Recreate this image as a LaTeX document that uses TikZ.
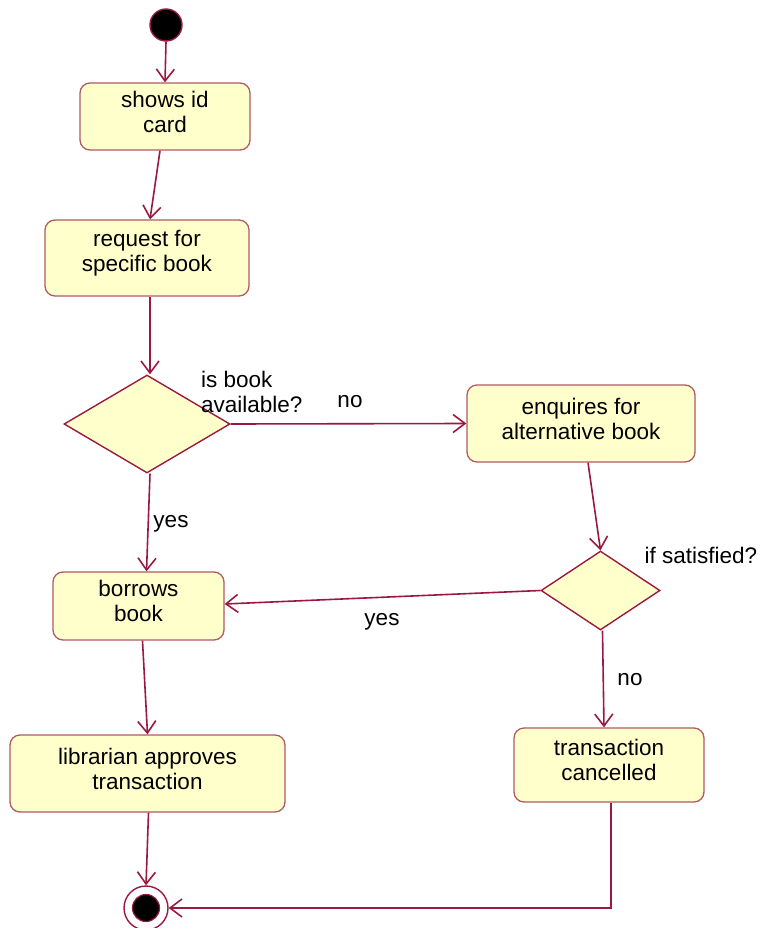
\documentclass[tikz,border=0pt]{standalone}
\usepackage{fontspec}
\setmainfont{Liberation Sans}
\usetikzlibrary{shapes.geometric,arrows.meta}
\definecolor{boxfill}{RGB}{255,255,204}
\definecolor{boxline}{RGB}{176,90,100}
\definecolor{flow}{RGB}{155,25,65}
\tikzset{
  act/.style={draw=boxline, line width=1.3pt, fill=boxfill, rounded corners=10pt, inner sep=0pt},
  acttext/.style={font=\fontsize{22.5}{25}\selectfont, align=center, inner sep=0pt, yshift=5pt},
  dec/.style={diamond, draw=flow, line width=1.4pt, fill=boxfill, inner sep=0pt},
  flowarrow/.style={draw=flow, line width=1.6pt, -{Straight Barb[length=12pt,width=18pt,line width=1.6pt]}},
  lbl/.style={font=\fontsize{22.5}{25}\selectfont, inner sep=0pt, align=left},
}
\begin{document}
\begin{tikzpicture}[x=1pt,y=-1pt]
\useasboundingbox (0,0) rectangle (762,928);
% start
\node[circle, fill=black, draw=flow, line width=1.4pt, minimum size=32pt, inner sep=0pt] (start) at (166,25) {};
% activities
\node[act, minimum width=170pt, minimum height=67pt, label={[acttext]center:{shows id\\card}}] (b1) at (165,116.5) {};
\node[act, minimum width=204pt, minimum height=76pt, label={[acttext]center:{request for\\specific book}}] (b2) at (147,258) {};
\node[dec, minimum width=166pt, minimum height=98pt, aspect=1.7] (d1) at (147,424) {};
\node[act, minimum width=228pt, minimum height=77pt, label={[acttext]center:{enquires for\\alternative book}}] (b3) at (581,423.5) {};
\node[dec, minimum width=119pt, minimum height=79pt, aspect=1.5] (d2) at (600.5,590.5) {};
\node[act, minimum width=171pt, minimum height=68pt, label={[acttext]center:{borrows\\book}}] (b4) at (138.5,606) {};
\node[act, minimum width=275pt, minimum height=77pt, label={[acttext]center:{librarian approves\\transaction}}] (b5) at (147.5,773.5) {};
\node[act, minimum width=190pt, minimum height=74pt, label={[acttext]center:{transaction\\cancelled}}] (b6) at (609,765) {};
% final
\node[circle, fill=white, draw=flow, line width=1.4pt, minimum size=44pt, inner sep=0pt] (fin) at (146,908) {};
\node[circle, fill=black, draw=flow, line width=1.2pt, minimum size=27pt, inner sep=0pt] (finin) at (fin.center) {};
% labels
\node[lbl, anchor=west] (l1) at (201,392) {is book\\available?};
\node[lbl] (l2) at (350,402) {no};
\node[lbl] (l3) at (171,524) {yes};
\node[lbl] (l4) at (701,555) {if satisfied?};
\node[lbl] (l5) at (382,622) {yes};
\node[lbl] (l6) at (630,680) {no};
% connectors
\draw[flowarrow] (start.south) -- (b1.north);
\draw[flowarrow] ([xshift=-5pt]b1.south) -- ([xshift=3pt]b2.north);
\draw[flowarrow] ([xshift=3pt]b2.south) -- ([xshift=3pt]d1.north);
\draw[flowarrow] (d1.east) -- (b3.west);
\draw[flowarrow] ([xshift=7pt]b3.south) -- (d2.north);
\draw[flowarrow] (d2.west) -- ([yshift=2pt]b4.east);
\draw[flowarrow] ([xshift=3pt]d1.south) -- ([xshift=8pt]b4.north);
\draw[flowarrow] ([xshift=4pt]b4.south) -- (b5.north);
\draw[flowarrow] ([xshift=2pt]d2.south) -- ([xshift=-5pt]b6.north);
\draw[flowarrow] ([xshift=1pt]b5.south) -- (fin.north);
\draw[flowarrow] ([xshift=2pt]b6.south) |- (fin.east);
\end{tikzpicture}
\end{document}
